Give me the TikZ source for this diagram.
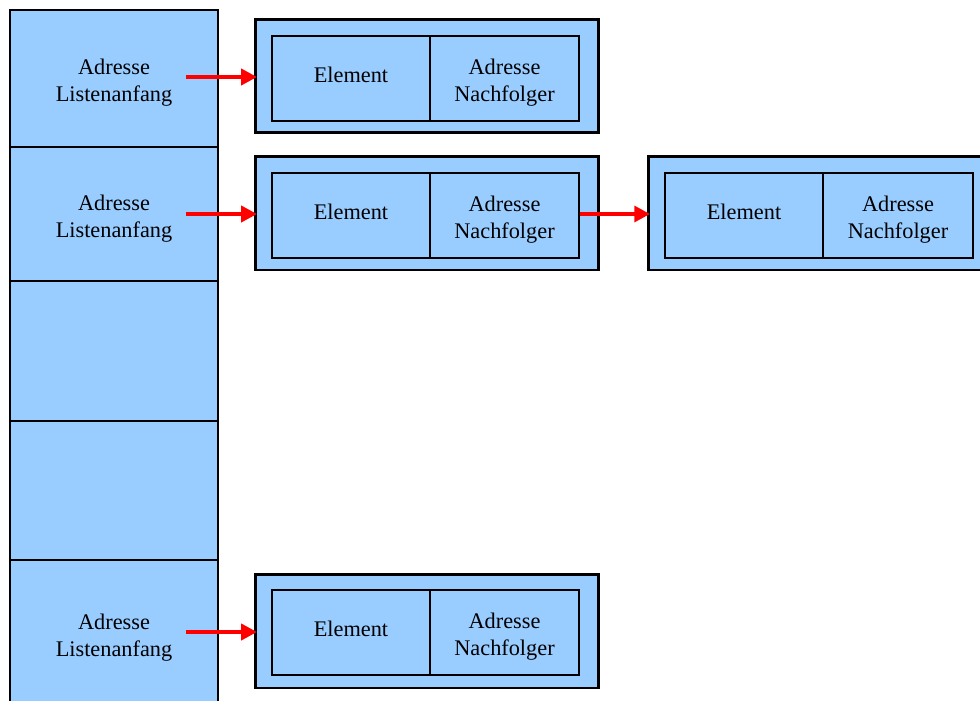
\documentclass[tikz,border=0pt]{standalone}
\usepackage{fontspec}
\setmainfont{Liberation Serif}
\usetikzlibrary{arrows.meta}
\definecolor{listblue}{HTML}{99CCFF}
\tikzset{
    cell/.style={draw, line width=1.6pt, fill=listblue, minimum width=4.16cm, inner sep=0pt},
    frame/.style={draw, line width=1.7pt, fill=listblue, minimum width=6.88cm, minimum height=2.28cm},
    field/.style={draw, line width=1.1pt, fill=listblue, minimum height=1.7cm, inner sep=0pt},
    txt/.style={align=center, inner sep=0pt},
    ptr/.style={red, line width=2.2pt, shorten >=-2pt, -{Triangle[length=9pt,width=9pt]}}
}
\begin{document}
\begin{tikzpicture}[x=0.02cm, y=-0.02cm, font=\fontsize{12.7}{15.3}\selectfont]
    \useasboundingbox (0,0) rectangle (980,700);
    \begin{scope}
    \clip (0,0) rectangle (980,700);
    % Hashtabelle
    \node[cell, minimum height=2.74cm] (c1) at (114,78.5) {};
    \node[cell, minimum height=2.68cm] (c2) at (114,214) {};
    \node[cell, minimum height=2.8cm] (c3) at (114,351) {};
    \node[cell, minimum height=2.78cm] (c4) at (114,490.5) {};
    \node[cell, minimum height=3cm] (c5) at (114,635) {};
    \node[txt] (t1) at ([yshift=-0.08cm]c1) {Adresse\\Listenanfang};
    \node[txt] (t2) at ([yshift=-0.1cm]c2) {Adresse\\Listenanfang};
    \node[txt] (t5) at ([yshift=-0.06cm]c5) {Adresse\\Listenanfang};
    % Listenelemente
    \node[frame] (l1) at (427,76) {};
    \node[field, minimum width=3.16cm] (e1) at (351,78.5) {};
    \node[field, minimum width=2.98cm] (n1) at (504.5,78.5) {};
    \node[frame] (l2) at (427,213) {};
    \node[field, minimum width=3.16cm] (e2) at (351,215.5) {};
    \node[field, minimum width=2.98cm] (n2) at (504.5,215.5) {};
    \node[frame] (l3) at (820,213) {};
    \node[field, minimum width=3.16cm] (e3) at (744,215.5) {};
    \node[field, minimum width=3cm] (n3) at (898,215.5) {};
    \node[frame] (l5) at (427,631) {};
    \node[field, minimum width=3.16cm] (e5) at (351,632.5) {};
    \node[field, minimum width=2.98cm] (n5) at (504.5,632.5) {};
    \foreach \i in {1,2,3,5} {
        \node[txt] (te\i) at ([yshift=0.08cm]e\i) {Element};
        \node[txt] (tn\i) at ([yshift=-0.08cm]n\i) {Adresse\\Nachfolger};
    }
    \end{scope}
    % Zeiger
    \coordinate (s1) at (186,77);
    \coordinate (s2) at (186,214);
    \coordinate (s5) at (186,632);
    \draw[ptr] (s1) -- (s1 -| l1.west);
    \draw[ptr] (s2) -- (s2 -| l2.west);
    \draw[ptr] (s5) -- (s5 -| l5.west);
    \draw[ptr] (s2 -| n2.east) -- (s2 -| l3.west);
\end{tikzpicture}
\end{document}
